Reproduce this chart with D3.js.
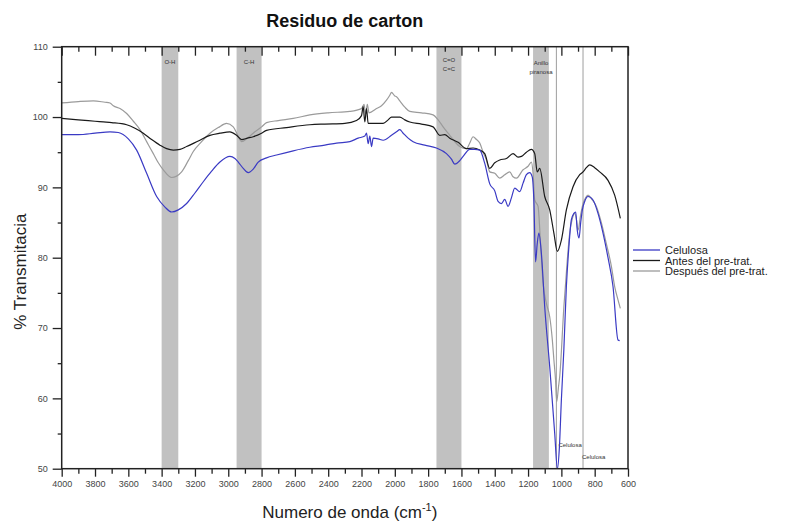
<!DOCTYPE html>
<html>
<head>
<meta charset="utf-8">
<script src="https://cdn.jsdelivr.net/npm/d3@7/dist/d3.min.js"></script>
<style>
  html, body { margin: 0; padding: 0; background: #fff; }
  svg { display: block; font-family: "Liberation Sans", Arial, sans-serif; }
</style>
</head>
<body>
<svg id="chart" width="787" height="524"></svg>
<script>
// FTIR spectra: [wavenumber cm-1, % transmittance]
const celulosa = [[4000,97.5],[3900,97.5],[3800,97.7],[3710,97.9],[3660,97.8],[3600,96.9],[3550,95.3],[3490,92.0],[3430,88.7],[3380,87.2],[3340,86.5],[3300,86.8],[3250,87.7],[3200,89.2],[3150,90.8],[3100,92.3],[3050,93.6],[2990,94.4],[2960,94.1],[2940,93.6],[2910,92.7],[2880,92.1],[2850,92.6],[2820,93.6],[2770,94.2],[2710,94.6],[2610,95.2],[2510,95.7],[2420,96.0],[2350,96.3],[2270,96.5],[2220,97.0],[2180,97.3],[2170,97.7],[2160,96.2],[2150,97.3],[2140,95.8],[2130,97.0],[2100,96.9],[2070,96.7],[2020,97.4],[1990,97.9],[1970,98.2],[1950,97.7],[1920,97.0],[1890,96.5],[1820,96.0],[1750,95.6],[1690,94.8],[1660,94.0],[1640,93.3],[1610,93.8],[1590,94.4],[1550,95.4],[1520,95.4],[1490,95.3],[1460,93.4],[1430,90.5],[1400,89.5],[1380,88.0],[1360,87.7],[1340,88.3],[1320,87.3],[1300,88.5],[1280,89.9],[1250,89.4],[1230,90.6],[1210,91.8],[1190,92.1],[1175,91.5],[1165,88.0],[1155,79.4],[1145,82.0],[1135,83.5],[1120,80.6],[1100,73.0],[1070,64.5],[1040,55.0],[1024,50.0],[1012,53.0],[1000,59.8],[985,67.0],[970,75.9],[955,81.5],[940,85.4],[925,86.3],[914,86.5],[905,84.0],[894,82.8],[884,85.0],[874,86.8],[860,88.0],[840,88.7],[810,88.2],[780,86.3],[750,83.5],[720,80.0],[690,75.9],[660,68.3],[650,68.2]];

const antes = [[4000,99.8],[3900,99.6],[3800,99.4],[3750,99.3],[3700,99.2],[3610,98.9],[3560,98.4],[3510,97.7],[3460,96.8],[3410,96.0],[3370,95.5],[3330,95.3],[3290,95.4],[3250,95.8],[3180,96.6],[3110,97.4],[3050,97.7],[2990,97.9],[2950,97.4],[2920,96.8],[2885,97.0],[2850,97.2],[2800,97.7],[2770,98.1],[2650,98.5],[2510,98.9],[2420,99.0],[2300,99.1],[2230,99.5],[2200,100.2],[2190,101.5],[2180,99.3],[2170,101.2],[2160,99.1],[2130,99.1],[2070,99.1],[2040,99.6],[2020,100.0],[1970,100.0],[1940,99.6],[1910,99.3],[1840,99.0],[1770,98.6],[1730,97.4],[1700,97.5],[1670,97.0],[1620,96.4],[1570,95.5],[1530,95.6],[1490,95.3],[1460,94.8],[1430,92.7],[1400,93.5],[1370,93.9],[1330,94.1],[1290,94.8],[1260,94.3],[1240,94.4],[1210,95.0],[1180,95.4],[1160,94.8],[1145,92.2],[1130,92.7],[1100,88.7],[1070,86.8],[1045,83.5],[1024,80.9],[1000,82.5],[970,86.8],[930,90.1],[890,91.8],[870,92.2],[850,92.8],[830,93.2],[800,92.8],[770,92.2],[720,91.0],[680,88.9],[646,85.6]];

const despues = [[4000,102.0],[3900,102.2],[3810,102.3],[3740,102.1],[3710,102.0],[3690,101.6],[3650,101.2],[3610,100.5],[3570,99.4],[3530,98.2],[3490,96.5],[3450,94.8],[3420,93.5],[3390,92.5],[3340,91.4],[3310,91.6],[3280,92.2],[3240,93.8],[3210,95.1],[3160,96.5],[3110,97.7],[3060,98.5],[3010,99.1],[2970,98.6],[2945,97.5],[2920,96.5],[2885,97.0],[2850,97.7],[2800,98.6],[2770,99.2],[2700,99.5],[2610,99.8],[2510,100.3],[2400,100.6],[2270,100.8],[2200,101.2],[2185,101.8],[2175,100.4],[2165,101.8],[2155,100.6],[2110,101.2],[2080,101.6],[2050,102.4],[2030,103.1],[2020,103.5],[2000,103.0],[1990,102.9],[1970,102.3],[1940,101.4],[1910,100.8],[1840,100.6],[1770,100.3],[1740,99.6],[1710,98.6],[1670,97.4],[1640,96.5],[1610,95.8],[1570,95.5],[1550,96.3],[1530,97.2],[1510,96.8],[1490,96.3],[1470,95.0],[1450,93.9],[1430,92.2],[1400,92.0],[1370,91.3],[1340,91.8],[1310,92.2],[1290,91.5],[1270,91.3],[1230,92.5],[1200,93.0],[1180,93.6],[1170,92.0],[1160,88.2],[1140,87.3],[1125,82.0],[1110,76.4],[1090,73.5],[1070,71.6],[1055,68.5],[1045,65.5],[1035,62.6],[1028,59.5],[1018,61.5],[1010,63.1],[985,73.0],[965,79.5],[950,83.5],[935,85.5],[920,86.3],[910,85.5],[900,83.9],[885,86.0],[870,87.7],[855,88.5],[840,88.9],[820,88.4],[790,87.3],[760,85.0],[730,82.0],[700,78.8],[680,75.9],[660,74.0],[646,72.8]];

// Shaded absorption bands [from, to] and their labels
const bands = [[3400,3300],[2950,2800],[1750,1600],[1170,1075]];
const bandLabels = [["O-H"],["C-H"],["C=O","C=C"],["Anillo","piranosa"]];
// Reference lines for cellulose peaks
const refLines = [1030, 870];
const refLabels = ["Celulosa", "Celulosa"];

const seriesNames = ["Celulosa", "Antes del pre-trat.", "Después del pre-trat."];
const seriesColors = ["#3a3ac4", "#1a1a1a", "#9b9b9b"];

const xTicks = d3.range(4000, 599, -200);
const yTicks = d3.range(50, 111, 10);

const svg = d3.select("#chart");
const plotLeft = 61.7, plotRight = 628, plotTop = 46.7, plotBottom = 468.7;

const x = d3.scaleLinear().domain([4000, 600]).range([plotLeft, plotRight]);
const y = d3.scaleLinear().domain([50, 110]).range([plotBottom, plotTop]);

svg.append("defs").append("clipPath").attr("id", "plotClip")
  .append("rect").attr("x", plotLeft).attr("y", plotTop)
  .attr("width", plotRight - plotLeft).attr("height", plotBottom - plotTop);

// bands
svg.append("g").selectAll("rect").data(bands).join("rect")
  .attr("x", d => x(d[0])).attr("width", d => x(d[1]) - x(d[0]))
  .attr("y", plotTop).attr("height", plotBottom - plotTop)
  .attr("fill", "#c1c1c1");

// reference lines
svg.append("g").selectAll("line").data(refLines).join("line")
  .attr("x1", d => x(d)).attr("x2", d => x(d))
  .attr("y1", plotTop).attr("y2", plotBottom)
  .attr("stroke", "#9e9e9e").attr("stroke-width", 1);

// band labels
const bl = svg.append("g").attr("font-size", 6).attr("fill", "#333").attr("text-anchor", "middle");
bands.forEach((b, i) => {
  const cx = x((b[0] + b[1]) / 2);
  const lines = bandLabels[i];
  const y0 = lines.length > 1 ? (i === 3 ? 64.5 : 61.5) : 63.5;
  lines.forEach((t, j) => {
    bl.append("text").attr("x", cx).attr("y", y0 + j * 9.5).text(t);
  });
});

// reference line labels
const rl = svg.append("g").attr("font-size", 6).attr("fill", "#333");
rl.append("text").attr("x", x(refLines[0]) + 2).attr("y", 447).text(refLabels[0]);
rl.append("text").attr("x", x(refLines[1]) - 1).attr("y", 459).text(refLabels[1]);

// spectra
const line = d3.line().x(d => x(d[0])).y(d => y(d[1])).curve(d3.curveMonotoneX);
const data = [celulosa, antes, despues];
const drawOrder = [2, 1, 0];
const lg = svg.append("g").attr("clip-path", "url(#plotClip)");
drawOrder.forEach(i => {
  lg.append("path").datum(data[i])
    .attr("fill", "none").attr("stroke", seriesColors[i])
    .attr("stroke-width", 1.2).attr("stroke-linejoin", "round")
    .attr("d", line);
});

// axes
const axisColor = "#222";
const labelColor = "#444";
const minorX = d3.range(3900, 600, -200);

const xAxis = svg.append("g").attr("transform", `translate(0,${plotBottom})`)
  .call(d3.axisBottom(x).tickValues(xTicks).tickSize(8).tickPadding(4).tickFormat(d3.format("d")));
const xMinor = svg.append("g").attr("transform", `translate(0,${plotBottom})`)
  .call(d3.axisBottom(x).tickValues(minorX).tickSize(5).tickFormat(""));
const xTop = svg.append("g").attr("transform", `translate(0,${plotTop})`)
  .call(d3.axisBottom(x).tickValues(xTicks).tickSize(9).tickFormat(""));
const xTopMinor = svg.append("g").attr("transform", `translate(0,${plotTop})`)
  .call(d3.axisBottom(x).tickValues(minorX).tickSize(5).tickFormat(""));

const yAxis = svg.append("g").attr("transform", `translate(${plotLeft},0)`)
  .call(d3.axisLeft(y).tickValues(yTicks).tickSize(9).tickPadding(5));
const yMinor = svg.append("g").attr("transform", `translate(${plotLeft},0)`)
  .call(d3.axisLeft(y).tickValues(d3.range(55, 110, 10)).tickSize(4).tickFormat(""));

[xAxis, xMinor, xTop, xTopMinor, yAxis, yMinor].forEach(g => {
  g.select(".domain").remove();
  g.selectAll("line").attr("stroke", axisColor).attr("stroke-width", 1.3);
  g.selectAll("text").attr("fill", labelColor).attr("font-size", 9)
    .attr("font-family", "Liberation Sans, Arial, sans-serif");
});

// frame
svg.append("rect").attr("x", plotLeft).attr("y", plotTop)
  .attr("width", plotRight - plotLeft).attr("height", plotBottom - plotTop)
  .attr("fill", "none").attr("stroke", axisColor).attr("stroke-width", 1.5);

// title
svg.append("text").attr("x", (plotLeft + plotRight) / 2).attr("y", 27).attr("text-anchor", "middle")
  .attr("font-size", 18).attr("font-weight", "bold").attr("fill", "#111").text("Residuo de carton");

// x label
const xl = svg.append("text").attr("x", (plotLeft + plotRight) / 2 + 5).attr("y", 518)
  .attr("text-anchor", "middle").attr("font-size", 17).attr("fill", "#222");
xl.append("tspan").text("Numero de onda (cm");
xl.append("tspan").attr("font-size", 11).attr("dy", -7).text("-1");
xl.append("tspan").attr("dy", 7).text(")");

// y label
svg.append("text").attr("transform", `translate(26,${(plotTop + plotBottom) / 2 + 14}) rotate(-90)`)
  .attr("text-anchor", "middle").attr("font-size", 17).attr("fill", "#222").text("% Transmitacia");

// legend
const leg = svg.append("g").attr("transform", "translate(633,250)");
seriesNames.forEach((n, i) => {
  const gy = i * 10.5;
  leg.append("line").attr("x1", 0).attr("x2", 27).attr("y1", gy).attr("y2", gy)
    .attr("stroke", seriesColors[i]).attr("stroke-width", 1.3);
  leg.append("text").attr("x", 32).attr("y", gy + 4).attr("font-size", 11).attr("fill", "#222").text(n);
});
</script>
</body>
</html>
